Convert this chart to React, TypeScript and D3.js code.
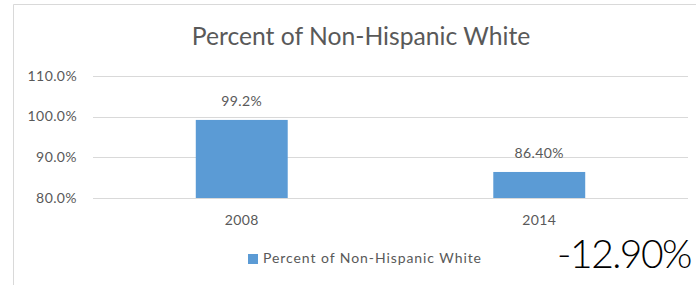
import React, { useEffect, useRef } from 'react';
import * as d3 from 'd3';

const categories = ['2008', '2014'];
const values = [99.2, 86.4];
const valueLabels = ['99.2%', '86.40%'];
const yTicks = [80, 90, 100, 110];
const chartTitle = 'Percent of Non-Hispanic White';
const seriesName = 'Percent of Non-Hispanic White';
const changeLabel = '-12.90%';

const W = 696;
const H = 285;

const App: React.FC = () => {
  const svgRef = useRef<SVGSVGElement>(null);

  useEffect(() => {
    if (!svgRef.current) return;
    const svg = d3.select(svgRef.current);
    svg.selectAll('*').remove();

    const font = 'Lato, Calibri, sans-serif';
    const textColor = '#595959';
    const margin = { left: 93, right: 8, top: 76, bottom: 87 };

    // chart frame
    svg.append('path')
      .attr('d', `M13.5,${H} L13.5,4.5 L${W},4.5`)
      .attr('fill', 'none')
      .attr('stroke', '#d9d9d9')
      .attr('stroke-width', 1);

    const x = d3.scaleBand<string>()
      .domain(categories)
      .range([margin.left, W - margin.right])
      .paddingInner(0.691)
      .paddingOuter(0.3455);

    const y = d3.scaleLinear()
      .domain([80, 110])
      .range([H - margin.bottom, margin.top]);

    // gridlines
    svg.append('g')
      .selectAll('line')
      .data(yTicks)
      .join('line')
      .attr('x1', margin.left)
      .attr('x2', W - margin.right)
      .attr('y1', d => Math.round(y(d)) + 0.5)
      .attr('y2', d => Math.round(y(d)) + 0.5)
      .attr('stroke', '#d9d9d9')
      .attr('stroke-width', 1.2);

    // y labels
    svg.append('g')
      .selectAll('text')
      .data(yTicks)
      .join('text')
      .attr('x', 77)
      .attr('y', d => y(d) + 4.5)
      .attr('text-anchor', 'end')
      .attr('font-family', font)
      .attr('font-size', 14)
      .attr('letter-spacing', 0.4)
      .attr('fill', textColor)
      .text(d => d.toFixed(1) + '%');

    // bars
    svg.append('g')
      .selectAll('rect')
      .data(values)
      .join('rect')
      .attr('x', (d, i) => x(categories[i])!)
      .attr('width', x.bandwidth())
      .attr('y', d => y(d))
      .attr('height', d => y(80) - y(d))
      .attr('fill', '#5b9bd5');

    // data labels
    svg.append('g')
      .selectAll('text')
      .data(values)
      .join('text')
      .attr('x', (d, i) => x(categories[i])! + x.bandwidth() / 2)
      .attr('y', d => y(d) - 14)
      .attr('text-anchor', 'middle')
      .attr('font-family', font)
      .attr('font-size', 14)
      .attr('letter-spacing', 0.4)
      .attr('fill', textColor)
      .text((d, i) => valueLabels[i]);

    // x labels
    svg.append('g')
      .selectAll('text')
      .data(categories)
      .join('text')
      .attr('x', d => x(d)! + x.bandwidth() / 2)
      .attr('y', 225)
      .attr('text-anchor', 'middle')
      .attr('font-family', font)
      .attr('font-size', 14)
      .attr('letter-spacing', 0.4)
      .attr('fill', textColor)
      .text(d => d);

    // title
    svg.append('text')
      .attr('x', 361)
      .attr('y', 45)
      .attr('text-anchor', 'middle')
      .attr('font-family', font)
      .attr('font-size', 24.7)
      .attr('fill', textColor)
      .text(chartTitle);

    // legend
    svg.append('rect')
      .attr('x', 248)
      .attr('y', 254)
      .attr('width', 10)
      .attr('height', 10)
      .attr('fill', '#5b9bd5');
    svg.append('text')
      .attr('x', 263)
      .attr('y', 263)
      .attr('font-family', font)
      .attr('font-size', 14)
      .attr('textLength', 218)
      .attr('lengthAdjust', 'spacing')
      .attr('fill', textColor)
      .text(seriesName);

    // change annotation
    svg.append('text')
      .attr('x', 691)
      .attr('y', 268)
      .attr('text-anchor', 'end')
      .attr('font-family', 'Lato, sans-serif')
      .attr('font-weight', 300)
      .attr('font-size', 39)
      .attr('letter-spacing', -1.5)
      .attr('fill', '#000')
      .text(changeLabel);
  }, []);

  return (
    <svg
      ref={svgRef}
      width={W}
      height={H}
      style={{ position: 'absolute', left: 0, top: 0, background: '#fff' }}
    />
  );
};

export default App;
